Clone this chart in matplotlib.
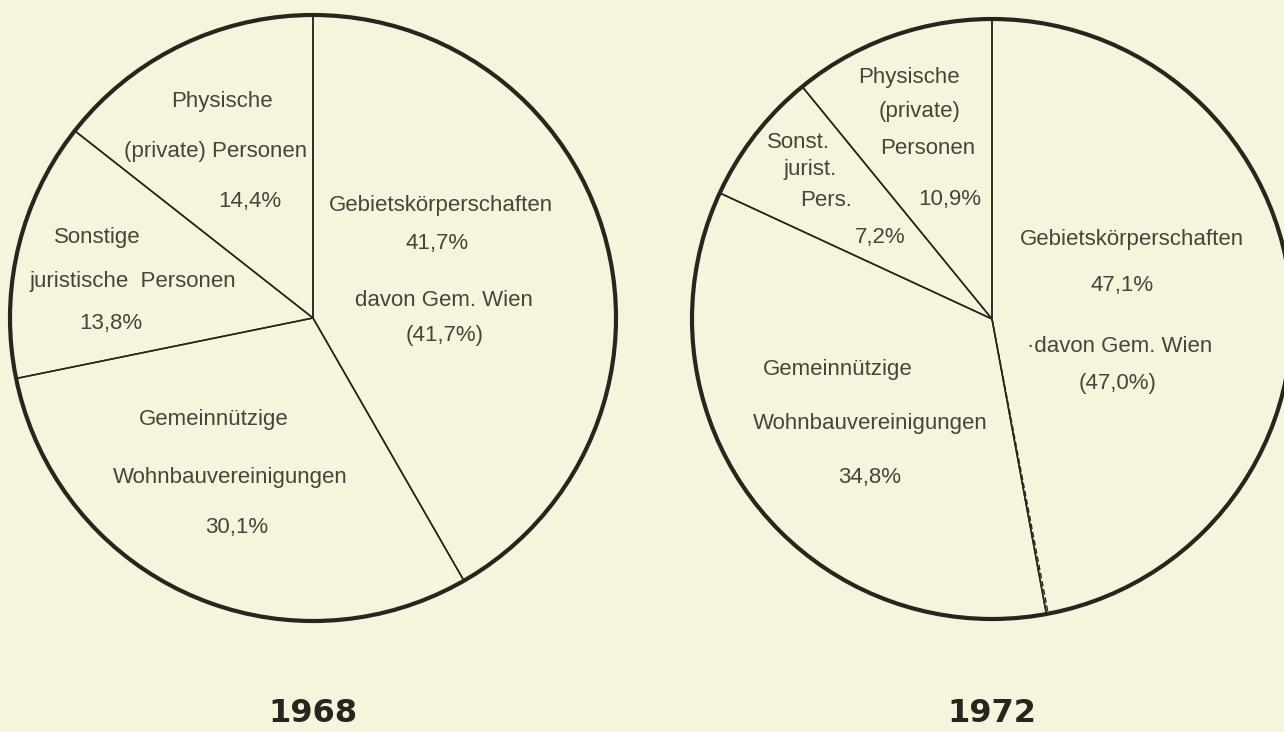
import matplotlib
matplotlib.use("Agg")
import matplotlib.pyplot as plt
from matplotlib.patches import Circle
import numpy as np

# shares in percent, clockwise from 12 o'clock
categories = ["Gebietskörperschaften", "Gemeinnützige Wohnbauvereinigungen",
              "Sonstige juristische Personen", "Physische (private) Personen"]
shares_1968 = [41.7, 30.1, 13.8, 14.4]
shares_1972 = [47.1, 34.8, 7.2, 10.9]
wien_1968 = 41.7
wien_1972 = 47.0
years = ["1968", "1972"]

labels_1968 = [
    "Physische", "(private) Personen", "14,4%",
    "Gebietskörperschaften", "41,7%", "davon Gem. Wien", "(41,7%)",
    "Sonstige", "juristische  Personen", "13,8%",
    "Gemeinnützige", "Wohnbauvereinigungen", "30,1%",
]
labels_1972 = [
    "Physische", "(private)", "Personen", "10,9%",
    "Sonst.", "jurist.", "Pers.", "7,2%",
    "Gebietskörperschaften", "47,1%", "·davon Gem. Wien", "(47,0%)",
    "Gemeinnützige", "Wohnbauvereinigungen", "34,8%",
]

W, H = 1284, 732
bg = "#f6f4dc"
line_c = "#26261e"
text_c = "#45453b"

fig = plt.figure(figsize=(W / 100, H / 100), dpi=100, facecolor=bg)
ax = fig.add_axes([0, 0, 1, 1])
ax.set_facecolor(bg)

pies = [
    dict(shares=shares_1968, wien=wien_1968, c=(313, 318), r=303, labels=labels_1968,
         pos=[(222, 102), (216, 151), (250, 201),
              (441, 205), (437, 243), (444, 301), (445, 335),
              (97, 238), (133, 282), (111, 323),
              (214, 420), (230, 478), (237, 527)]),
    dict(shares=shares_1972, wien=wien_1972, c=(992, 319), r=300, labels=labels_1972,
         pos=[(909, 77), (920, 112), (928, 149), (950, 199),
              (798, 142), (810, 170), (826, 200), (880, 238),
              (1132, 240), (1122, 285), (1120, 347), (1118, 383),
              (838, 370), (870, 424), (870, 477)]),
]

for p, year in zip(pies, years):
    cx, cy = p["c"][0], H - p["c"][1]
    ax.pie(p["shares"], startangle=90, counterclock=False, center=(cx, cy),
           radius=p["r"], wedgeprops=dict(facecolor="none", edgecolor=line_c, linewidth=1.1))
    ax.add_patch(Circle((cx, cy), p["r"], fill=False, edgecolor=line_c, linewidth=3.0, zorder=5))
    # share of Gemeinde Wien inside the Gebietskörperschaften slice
    if p["wien"] != p["shares"][0]:
        a = np.deg2rad(90 - 360 * p["wien"] / 100)
        ax.plot([cx, cx + p["r"] * np.cos(a)], [cy, cy + p["r"] * np.sin(a)],
                color=line_c, linewidth=1.0, linestyle=(0, (4, 2)))
    for txt, (x, y) in zip(p["labels"], p["pos"]):
        ax.text(x, H - y, txt, ha="center", va="center", fontsize=16,
                family="Liberation Sans", color=text_c)
    ax.text(p["c"][0], H - 714, year, ha="center", va="center", fontsize=23,
            fontweight="bold", family="DejaVu Sans", color=line_c)

ax.set_xlim(0, W)
ax.set_ylim(0, H)
ax.set_aspect("equal")
ax.axis("off")

fig.savefig("out.png", dpi=100, facecolor=bg)
